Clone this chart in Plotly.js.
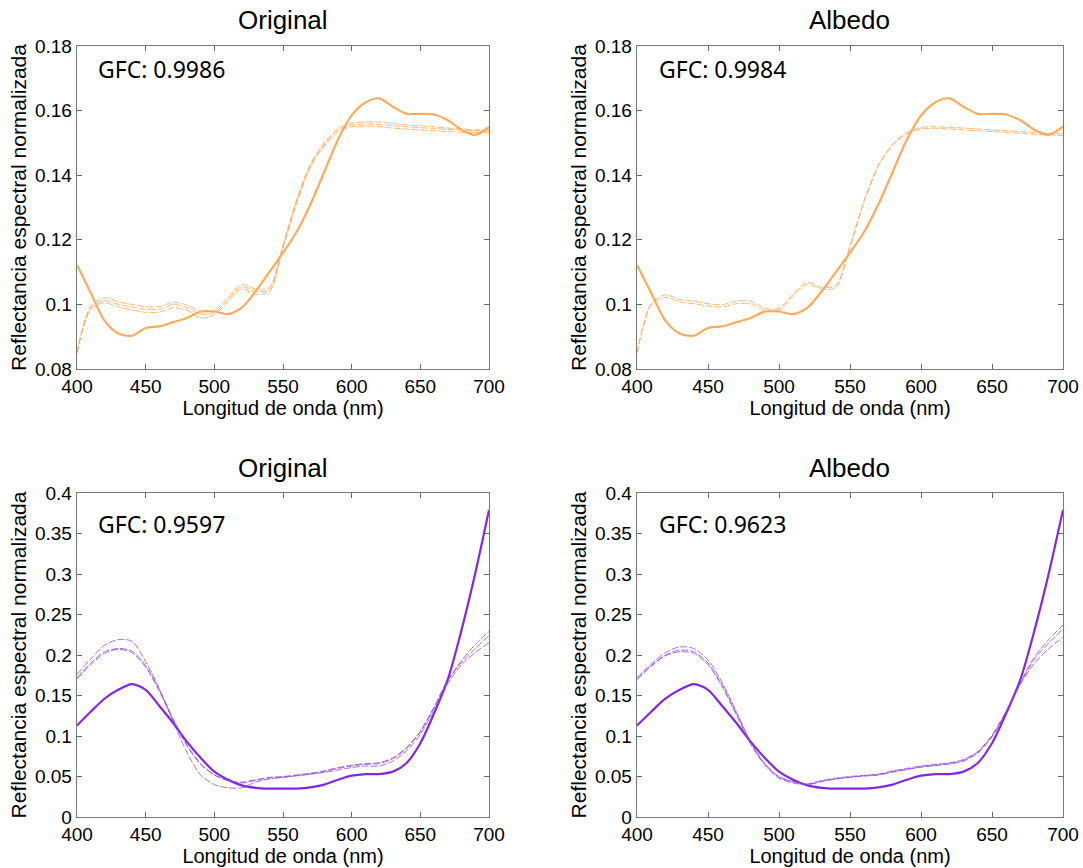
<!DOCTYPE html>
<html>
<head>
<meta charset="utf-8">
<script src="https://cdn.plot.ly/plotly-3.0.1.min.js"></script>
<style>html,body{margin:0;padding:0;background:#fff;}#chart{width:1083px;height:868px;}</style>
</head>
<body>
<div id="chart"></div>
<script>
// Wavelengths (nm)
const wavelengths = [400,410,420,430,440,450,460,470,480,490,500,510,520,530,540,550,560,570,580,590,600,610,620,630,640,650,660,670,680,690,700];

// Panel titles and GFC labels
const panelTitles = ["Original", "Albedo", "Original", "Albedo"];
const gfcLabels = ["GFC: 0.9986", "GFC: 0.9984", "GFC: 0.9597", "GFC: 0.9623"];

// Top row (orange sample)
const topSolid = [0.1122,0.1035,0.0950,0.0910,0.0903,0.0927,0.0932,0.0945,0.0958,0.0978,0.0978,0.0970,0.0990,0.1040,0.1100,0.1160,0.1225,0.1310,0.1410,0.1510,0.1585,0.1625,0.1638,0.1612,0.1590,0.1590,0.1588,0.1570,0.1540,0.1525,0.1550];
const topOrigDash1 = [0.0850,0.0995,0.1020,0.1008,0.1000,0.0993,0.0993,0.1007,0.0998,0.0978,0.0982,0.1022,0.1062,0.1048,0.1052,0.1185,0.1325,0.1435,0.1500,0.1545,0.1560,0.1565,0.1564,0.1560,0.1556,0.1553,0.1550,0.1546,0.1543,0.1540,0.1540];
const topOrigDash2 = [0.0850,0.0990,0.1012,0.1000,0.0992,0.0985,0.0985,0.1000,0.0990,0.0970,0.0975,0.1015,0.1055,0.1040,0.1045,0.1180,0.1320,0.1430,0.1495,0.1540,0.1555,0.1558,0.1557,0.1553,0.1550,0.1547,0.1545,0.1542,0.1540,0.1538,0.1537];
const topOrigDash3 = [0.0850,0.0985,0.1005,0.0992,0.0983,0.0975,0.0976,0.0990,0.0982,0.0958,0.0968,0.1008,0.1048,0.1032,0.1038,0.1175,0.1315,0.1425,0.1490,0.1535,0.1550,0.1552,0.1550,0.1546,0.1543,0.1540,0.1538,0.1535,0.1533,0.1532,0.1532];
const topAlbDash1 = [0.0850,0.1002,0.1030,0.1015,0.1010,0.1002,0.0999,0.1010,0.1010,0.0988,0.0988,0.1032,0.1068,0.1053,0.1058,0.1182,0.1322,0.1432,0.1497,0.1532,0.1548,0.1550,0.1548,0.1546,0.1543,0.1540,0.1538,0.1535,0.1532,0.1530,0.1528];
const topAlbDash2 = [0.0850,0.0998,0.1022,0.1008,0.1002,0.0995,0.0992,0.1002,0.1002,0.0982,0.0982,0.1027,0.1062,0.1047,0.1052,0.1178,0.1318,0.1428,0.1493,0.1528,0.1543,0.1545,0.1543,0.1540,0.1538,0.1535,0.1533,0.1530,0.1527,0.1525,0.1522];

// Bottom row (purple sample)
const botSolid = [0.1130,0.1300,0.1460,0.1570,0.1640,0.1570,0.1370,0.1160,0.0930,0.0730,0.0560,0.0460,0.0390,0.0360,0.0350,0.0350,0.0350,0.0365,0.0400,0.0460,0.0510,0.0530,0.0530,0.0560,0.0667,0.0910,0.1280,0.1700,0.2310,0.3010,0.3790];
const botOrigDash1 = [0.1700,0.1880,0.2020,0.2070,0.2030,0.1850,0.1550,0.1200,0.0880,0.0650,0.0520,0.0450,0.0420,0.0450,0.0480,0.0490,0.0510,0.0530,0.0560,0.0600,0.0630,0.0650,0.0660,0.0720,0.0850,0.1050,0.1350,0.1680,0.1930,0.2130,0.2290];
const botOrigDash2 = [0.1760,0.1950,0.2120,0.2190,0.2170,0.1920,0.1580,0.1180,0.0800,0.0520,0.0400,0.0360,0.0360,0.0430,0.0470,0.0490,0.0510,0.0530,0.0550,0.0580,0.0610,0.0630,0.0630,0.0690,0.0820,0.1020,0.1320,0.1650,0.1880,0.2030,0.2150];
const botOrigDash3 = [0.1720,0.1900,0.2040,0.2080,0.2050,0.1870,0.1570,0.1210,0.0890,0.0660,0.0520,0.0450,0.0430,0.0460,0.0490,0.0500,0.0520,0.0540,0.0570,0.0610,0.0640,0.0660,0.0670,0.0730,0.0860,0.1060,0.1360,0.1690,0.1910,0.2080,0.2240];
const botAlbDash1 = [0.1700,0.1870,0.2000,0.2060,0.2040,0.1900,0.1630,0.1280,0.0920,0.0650,0.0490,0.0430,0.0400,0.0440,0.0470,0.0490,0.0510,0.0520,0.0560,0.0590,0.0620,0.0640,0.0660,0.0700,0.0800,0.1000,0.1300,0.1650,0.1950,0.2150,0.2320];
const botAlbDash2 = [0.1720,0.1890,0.2030,0.2100,0.2080,0.1940,0.1660,0.1300,0.0930,0.0660,0.0500,0.0440,0.0410,0.0450,0.0480,0.0500,0.0515,0.0530,0.0570,0.0600,0.0630,0.0650,0.0670,0.0710,0.0810,0.1010,0.1310,0.1660,0.1980,0.2190,0.2370];
const botAlbDash3 = [0.1700,0.1860,0.1990,0.2040,0.2020,0.1880,0.1610,0.1260,0.0900,0.0640,0.0480,0.0420,0.0400,0.0440,0.0470,0.0490,0.0505,0.0520,0.0555,0.0585,0.0615,0.0635,0.0655,0.0690,0.0790,0.0990,0.1290,0.1640,0.1900,0.2080,0.2220];

const orange = 'rgb(255,170,92)';
const orangeLight = 'rgba(255,170,92,0.85)';
const purple = 'rgb(130,40,225)';
const purpleLight = 'rgba(140,60,230,0.75)';

function solid(y, color, ax) {
  return {x: wavelengths, y: y, xaxis: 'x'+ax, yaxis: 'y'+ax, mode: 'lines', type: 'scatter',
    line: {color: color, width: 2.2, shape: 'spline', smoothing: 0.8}, showlegend: false, hoverinfo: 'skip'};
}
function dashed(y, color, ax) {
  return {x: wavelengths, y: y, xaxis: 'x'+ax, yaxis: 'y'+ax, mode: 'lines', type: 'scatter',
    line: {color: color, width: 1, dash: '7px,2px', shape: 'spline', smoothing: 0.8}, showlegend: false, hoverinfo: 'skip'};
}
const data = [
  solid(topSolid, orange, ''), dashed(topOrigDash1, orangeLight, ''), dashed(topOrigDash2, orangeLight, ''), dashed(topOrigDash3, orangeLight, ''),
  solid(topSolid, orange, '2'), dashed(topAlbDash1, orangeLight, '2'), dashed(topAlbDash2, orangeLight, '2'),
  solid(botSolid, purple, '3'), dashed(botOrigDash1, purpleLight, '3'), dashed(botOrigDash2, purpleLight, '3'), dashed(botOrigDash3, purpleLight, '3'),
  solid(botSolid, purple, '4'), dashed(botAlbDash1, purpleLight, '4'), dashed(botAlbDash2, purpleLight, '4'), dashed(botAlbDash3, purpleLight, '4')
];

const xDomL = [77/1083, 489/1083], xDomR = [637/1083, 1063/1083];
const yDomT = [1-369/868, 1-46/868], yDomB = [1-817/868, 1-493/868];
const tickFont = {family: 'Liberation Sans, Arial, sans-serif', size: 19, color: '#000'};
const xTitleFont = {family: 'Liberation Sans, Arial, sans-serif', size: 20, color: '#000'};
const yTitleFont = {family: 'Liberation Sans, Arial, sans-serif', size: 21, color: '#000'};

function xaxis(dom, anchor) {
  return {domain: dom, anchor: anchor, range: [400, 700], tickvals: [400,450,500,550,600,650,700],
    ticks: 'inside', ticklen: 5, tickcolor: '#666', showline: true, linecolor: '#777', linewidth: 1.3, mirror: 'ticks',
    showgrid: false, zeroline: false, tickfont: tickFont,
    title: {text: 'Longitud de onda (nm)', font: xTitleFont, standoff: 0}};
}
function yaxis(dom, anchor, range, vals, texts) {
  return {domain: dom, anchor: anchor, range: range, tickvals: vals, ticktext: texts,
    ticks: 'inside', ticklen: 5, tickcolor: '#666', showline: true, linecolor: '#777', linewidth: 1.3, mirror: 'ticks',
    showgrid: false, zeroline: false, tickfont: tickFont,
    title: {text: 'Reflectancia espectral normalizada', font: yTitleFont, standoff: 2}};
}
const topVals = [0.08,0.10,0.12,0.14,0.16,0.18];
const topTexts = ['0.08','0.1','0.12','0.14','0.16','0.18'];
const botVals = [0,0.05,0.1,0.15,0.2,0.25,0.3,0.35,0.4];
const botTexts = ['0','0.05','0.1','0.15','0.2','0.25','0.3','0.35','0.4'];

const titleAnn = (txt, x, y) => ({text: txt, xref: 'paper', yref: 'paper', x: x, y: y, xanchor: 'center', yanchor: 'middle',
  showarrow: false, font: {family: 'Liberation Sans, Arial, sans-serif', size: 26, color: '#000'}});
const gfcAnn = (txt, axn, yv) => ({text: txt, xref: 'x'+axn, yref: 'y'+axn, x: 414, y: yv, xanchor: 'left', yanchor: 'middle',
  showarrow: false, font: {family: 'Noto Sans, Open Sans, sans-serif', size: 23, color: '#000'}});

const layout = {
  width: 1083, height: 868, margin: {l: 0, r: 0, t: 0, b: 0},
  paper_bgcolor: '#fff', plot_bgcolor: '#fff', showlegend: false,
  xaxis: xaxis(xDomL, 'y'), yaxis: yaxis(yDomT, 'x', [0.08, 0.18], topVals, topTexts),
  xaxis2: xaxis(xDomR, 'y2'), yaxis2: yaxis(yDomT, 'x2', [0.08, 0.18], topVals, topTexts),
  xaxis3: xaxis(xDomL, 'y3'), yaxis3: yaxis(yDomB, 'x3', [0, 0.4], botVals, botTexts),
  xaxis4: xaxis(xDomR, 'y4'), yaxis4: yaxis(yDomB, 'x4', [0, 0.4], botVals, botTexts),
  annotations: [
    titleAnn(panelTitles[0], 283/1083, 1-20/868),
    titleAnn(panelTitles[1], 850/1083, 1-20/868),
    titleAnn(panelTitles[2], 283/1083, 1-468/868),
    titleAnn(panelTitles[3], 850/1083, 1-468/868),
    gfcAnn(gfcLabels[0], '', 0.1730),
    gfcAnn(gfcLabels[1], '2', 0.1730),
    gfcAnn(gfcLabels[2], '3', 0.362),
    gfcAnn(gfcLabels[3], '4', 0.362)
  ]
};
Plotly.newPlot('chart', data, layout, {staticPlot: true, displayModeBar: false});
</script>
</body>
</html>
